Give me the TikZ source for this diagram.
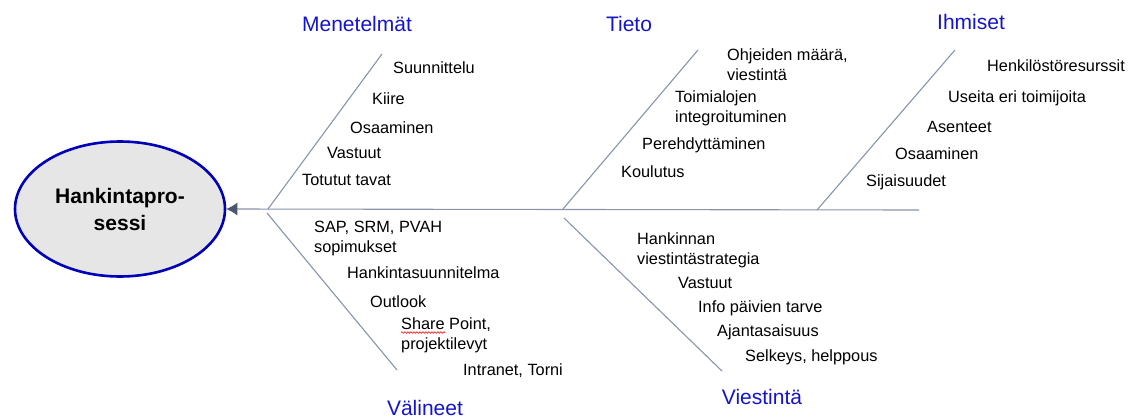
\documentclass[tikz,border=0pt]{standalone}
\usepackage{fontspec}
\setmainfont{Liberation Sans}
\usetikzlibrary{arrows.meta,decorations.pathmorphing}
\definecolor{titleblue}{RGB}{20,20,200}
\definecolor{rimblue}{RGB}{0,0,185}
\definecolor{bodygray}{RGB}{230,230,230}
\definecolor{bonecol}{RGB}{135,148,172}
\definecolor{tipcol}{RGB}{72,86,110}
\tikzset{
  item/.style={anchor=west,inner sep=0pt,align=left,font=\fontsize{16.3}{20}\selectfont},
  cat/.style={inner sep=0pt,text=titleblue,font=\fontsize{21}{24}\selectfont},
  bone/.style={draw=bonecol,line width=1.1pt},
  head/.style={ellipse,draw=rimblue,line width=2.6pt,fill=bodygray,minimum width=210pt,minimum height=135pt,inner sep=0pt,align=center,font=\fontsize{21}{27}\selectfont\bfseries}
}
\usetikzlibrary{shapes.geometric}
\begin{document}
\begin{tikzpicture}[x=1pt,y=1pt]
\useasboundingbox (0,0) rectangle (1129,416);
% head
\node[head] (hp) at (120,207) {Hankintapro-\\sessi};
% spine
\coordinate (spineEnd) at (919,206);
\draw[bone,-{Latex[length=11pt,width=13pt,color=tipcol]}] (spineEnd) -- (hp.east);
% bones
\coordinate (m0) at (268,207); \coordinate (m1) at (382,362);
\coordinate (t0) at (563,207); \coordinate (t1) at (698,366);
\coordinate (i0) at (817,206); \coordinate (i1) at (955,366);
\coordinate (v0) at (267,203); \coordinate (v1) at (397,46);
\coordinate (s0) at (564,198); \coordinate (s1) at (722,45);
\draw[bone] (m0) -- (m1);
\draw[bone] (t0) -- (t1);
\draw[bone] (i0) -- (i1);
\draw[bone] (v0) -- (v1);
\draw[bone] (s0) -- (s1);
% categories
\node[cat] (cm) at (357,392) {Menetelmät};
\node[cat] (ct) at (629,392) {Tieto};
\node[cat] (ci) at (971,394) {Ihmiset};
\node[cat] (cv) at (425,8) {Välineet};
\node[cat] (cs) at (762,19) {Viestintä};
% Menetelmat
\node[item] (m-a) at (393,348) {Suunnittelu};
\node[item] (m-b) at (372,317) {Kiire};
\node[item] (m-c) at (350,288) {Osaaminen};
\node[item] (m-d) at (327,263) {Vastuut};
\node[item] (m-e) at (302,236) {Totutut tavat};
% Tieto
\node[item] (t-a) at (727,351) {Ohjeiden määrä,\\viestintä};
\node[item] (t-b) at (675,308) {Toimialojen\\integroituminen};
\node[item] (t-c) at (642,271) {Perehdyttäminen};
\node[item] (t-d) at (621,244) {Koulutus};
% Ihmiset
\node[item] (i-a) at (987,350) {Henkilöstöresurssit};
\node[item] (i-b) at (948,318) {Useita eri toimijoita};
\node[item] (i-c) at (927,289) {Asenteet};
\node[item] (i-d) at (895,262) {Osaaminen};
\node[item] (i-e) at (866,234) {Sijaisuudet};
% Valineet
\node[item] (v-a) at (314,178) {SAP, SRM, PVAH\\sopimukset};
\node[item] (v-b) at (347,143) {Hankintasuunnitelma};
\node[item] (v-c) at (370,114) {Outlook};
\node[item] (v-d) at (401,81) {Share Point,\\projektilevyt};
\node[item] (v-e) at (463,45) {Intranet, Torni};
\draw[red,line width=0.6pt,decorate,decoration={snake,amplitude=0.8pt,segment length=3pt}] (401,83.5) -- (445,83.5);
% Viestinta
\node[item] (s-a) at (637,166) {Hankinnan\\viestintästrategia};
\node[item] (s-b) at (678,133) {Vastuut};
\node[item] (s-c) at (698,108) {Info päivien tarve};
\node[item] (s-d) at (717,84) {Ajantasaisuus};
\node[item] (s-e) at (745,59) {Selkeys, helppous};
\end{tikzpicture}
\end{document}
